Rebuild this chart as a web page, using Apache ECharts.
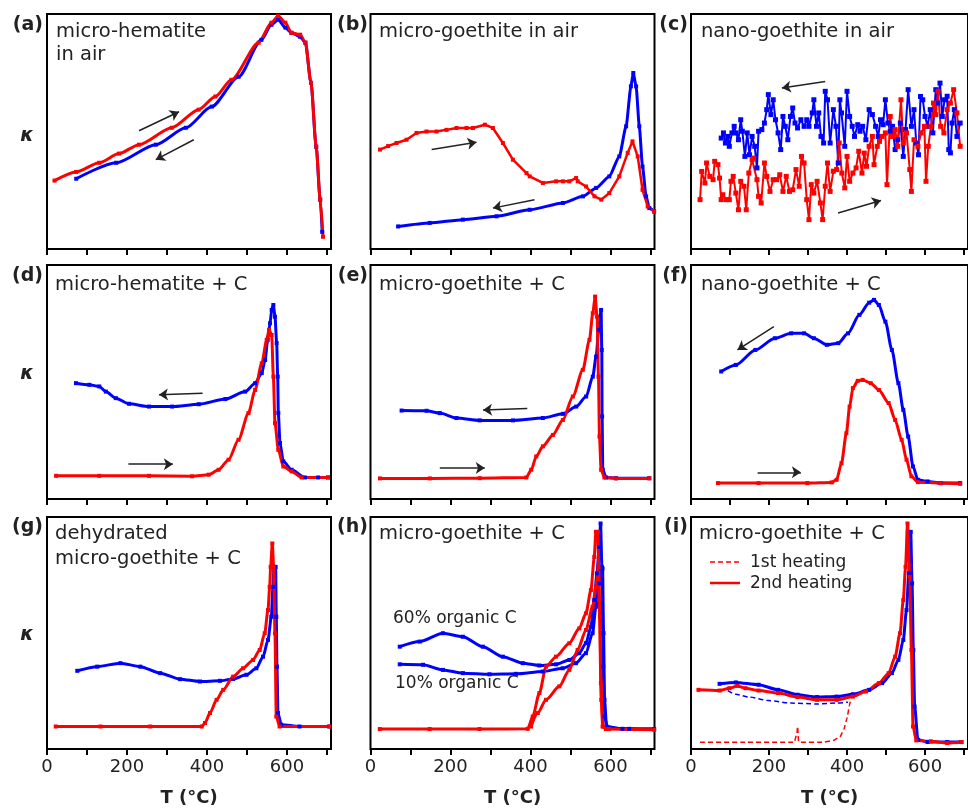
<!DOCTYPE html>
<html>
<head>
<meta charset="utf-8">
<script src="https://cdn.jsdelivr.net/npm/echarts@6/dist/echarts.min.js"></script>
<style>
html, body { margin: 0; padding: 0; background: #fff; }
#main { width: 968px; height: 809px; }
</style>
</head>
<body>
<div id="main"></div>
<script>
// x 轴刻度 (T, °C)
var tickValues = [0, 100, 200, 300, 400, 500, 600, 700];
var labelValues = [0, 200, 400, 600];

// (a) micro-hematite in air
var aHeat = [[18.7, 29.1], [72.6, 32.8], [130.6, 36.7], [180, 40.6], [230, 44.4], [312, 51.6], [379, 59.3], [421, 64.9], [461, 72.0], [529, 87.8], [561, 96.3], [578, 99.2], [596, 96.3], [611, 92], [633, 91.2], [646, 87.8], [660, 70.7], [673, 43.5], [683, 21], [690, 5.2]];
var aCool = [[73, 29.9], [173, 36.7], [272, 44.4], [347, 51.6], [412, 60.6], [479, 73.3], [536, 89], [561, 95.4], [578, 97.6], [596, 94.2], [611, 92], [633, 90.3], [646, 87.8], [660, 70.7], [673, 43.5], [683, 21], [688, 7.3]];
var aArrows = [[230, 50.3, 330, 58.4], [367, 46.5, 272, 38]];

// (b) micro-goethite in air
var bHeat = [[23.7, 42.3], [44, 43.8], [65, 45.1], [90, 46.5], [115, 49.4], [140, 50.0], [165, 50.0], [190, 50.7], [215, 51.5], [240, 51.5], [256, 51.5], [286, 52.9], [306, 51.5], [331, 45.1], [356, 38], [390, 32.3], [398, 30.9], [431, 28.1], [464, 28.8], [481, 28.8], [497, 28.8], [514, 30.2], [518, 28.8], [539, 26.6], [560, 22.4], [577, 21], [597, 23.8], [622, 30.9], [643, 40.9], [655, 45.8], [668, 39.4], [680, 25.2], [693, 18.1], [709, 16]];
var bCool = [[69, 9.6], [148, 11.1], [231, 12.5], [315, 13.9], [398, 16.7], [481, 19.6], [531, 22.4], [564, 26], [597, 30.9], [622, 39.4], [639, 52.2], [651, 69.2], [657, 74.9], [664, 69.2], [672, 52.2], [680, 35.1], [689, 22.4], [697, 17.4], [709, 16]];
var bArrows = [[153, 42.3, 265, 45.4], [410, 21, 306, 17.4]];

// (c) nano-goethite in air
var cHeat = [[23.2, 21.0], [27.4, 33.0], [35.7, 28.1], [39.9, 36.6], [48.2, 30.9], [56.6, 29.5], [60.7, 37.3], [69.1, 35.9], [73.2, 30.2], [77.4, 21.0], [81.6, 23.1], [89.9, 21.0], [98.2, 21.0], [102.4, 28.8], [108.2, 30.9], [114.9, 23.8], [121.6, 16.7], [127.4, 28.8], [135.7, 26.7], [141.6, 16.7], [148.2, 32.3], [156.6, 38.0], [160.7, 38.7], [169.1, 29.5], [173.2, 22.4], [179.9, 19.6], [188.2, 36.6], [194.1, 30.9], [202.4, 24.5], [210.7, 29.5], [219.1, 29.5], [227.4, 31.6], [235.7, 24.5], [244.1, 30.9], [252.4, 24.5], [260.7, 25.2], [269.1, 33.8], [277.4, 26.7], [283.2, 39.4], [289.9, 36.6], [296.6, 21.0], [302.4, 12.5], [308.2, 27.4], [314.9, 23.8], [323.2, 28.8], [331.6, 19.6], [337.4, 12.5], [344.1, 26.7], [349.9, 36.6], [356.6, 24.5], [364.9, 33.1], [373.2, 33.8], [379.9, 45.1], [386.6, 32.3], [394.1, 26.0], [399.9, 39.4], [406.6, 28.8], [414.9, 32.3], [423.2, 34.5], [429.9, 41.6], [438.2, 32.3], [444.1, 40.8], [449.9, 35.2], [456.6, 43.7], [464.9, 47.9], [469.1, 35.9], [477.4, 43.7], [483.2, 45.8], [489.9, 47.9], [498.2, 49.4], [502.4, 27.4], [510.7, 56.4], [516.6, 47.9], [523.2, 50.8], [529.9, 43.7], [538.2, 63.5], [544.1, 45.1], [552.4, 49.4], [560.7, 33.8], [564.9, 24.5], [571.6, 46.5], [581.6, 43.7], [589.9, 49.4], [598.2, 52.2], [602.4, 28.8], [608.2, 43.7], [614.9, 52.2], [621.6, 62.1], [627.4, 57.2], [633.2, 67.1], [639.9, 52.2], [648.2, 49.4], [656.6, 59.3], [664.9, 62.1], [673.2, 67.8], [681.6, 57.9], [689.9, 43.7]];
var cCool = [[77.4, 47.2], [83.2, 49.4], [88.2, 45.1], [94.1, 47.9], [98.2, 43.7], [104.9, 49.4], [110.7, 52.2], [114.9, 49.4], [121.6, 46.5], [127.4, 55.0], [131.6, 50.1], [138.2, 39.4], [144.1, 49.4], [149.9, 40.1], [156.6, 47.9], [163.2, 43.7], [169.1, 34.5], [173.2, 50.1], [181.6, 50.8], [188.2, 53.6], [194.1, 59.3], [198.2, 65.7], [204.9, 57.2], [210.7, 63.5], [216.6, 55.0], [223.2, 49.4], [229.9, 42.3], [235.7, 56.4], [241.6, 52.2], [248.2, 46.5], [254.9, 56.4], [260.7, 60.0], [266.6, 53.6], [273.2, 51.5], [281.6, 55.0], [289.9, 52.2], [296.6, 55.0], [302.4, 52.2], [310.7, 57.9], [314.9, 63.5], [321.6, 52.2], [327.4, 57.9], [333.2, 47.9], [339.9, 45.1], [344.1, 67.1], [349.9, 63.5], [356.6, 45.1], [364.9, 59.3], [371.6, 52.2], [377.4, 36.6], [381.6, 63.5], [385.7, 57.9], [394.1, 43.7], [399.9, 67.1], [406.6, 56.4], [413.2, 52.2], [419.1, 47.9], [427.4, 52.9], [433.2, 50.1], [439.9, 52.2], [448.2, 46.5], [456.6, 59.3], [464.9, 57.2], [473.2, 52.2], [479.9, 47.9], [485.7, 55.0], [492.4, 52.9], [498.2, 63.5], [504.9, 53.6], [510.7, 50.1], [516.6, 52.2], [523.2, 42.3], [529.9, 46.5], [536.6, 53.6], [544.1, 39.4], [549.9, 50.8], [556.6, 67.8], [564.9, 52.2], [571.6, 59.3], [577.4, 45.1], [583.2, 40.1], [588.2, 64.9], [594.1, 63.5], [599.9, 56.4], [606.6, 52.2], [613.2, 59.3], [619.9, 49.4], [627.4, 67.8], [631.6, 62.1], [638.2, 70.6], [644.1, 56.4], [649.9, 63.5], [656.6, 65.0], [660.7, 42.3], [664.9, 40.9], [669.1, 53.6], [674.9, 59.3], [681.6, 47.9], [689.9, 53.6]];
var cArrows = [[344, 71.3, 233, 68.5], [377, 15.3, 487, 20.6]];

// (d) micro-hematite + C
var dHeat = [[22.8, 9.9], [130.6, 9.9], [254.9, 9.9], [362.7, 9.7], [404.2, 10.4], [429.1, 12.5], [454.0, 16.8], [478.8, 25.3], [503.7, 36.7], [520.3, 46.6], [536.9, 58.0], [549.3, 68.0], [555.1, 72.3], [561.7, 70.1], [565.9, 52.3], [570.0, 32.4], [578.3, 21.0], [590.8, 13.9], [611.5, 11.8], [636.4, 9.2], [702.7, 9.2]];
var dCool = [[72.5, 49.5], [105.7, 48.8], [130.6, 48.1], [147.1, 45.9], [172.0, 43.1], [205.2, 40.7], [254.9, 39.5], [313.0, 39.5], [379.3, 40.5], [445.7, 42.7], [495.4, 45.9], [520.3, 49.5], [536.9, 53.8], [545.2, 59.4], [551.8, 68.0], [557.6, 75.1], [561.7, 80.8], [565.9, 82.9], [570.0, 77.9], [574.2, 66.6], [576.7, 52.3], [578.3, 36.7], [582.5, 23.9], [590.8, 16.1], [611.5, 12.5], [644.7, 9.2], [677.8, 9.2], [702.7, 9.2]];
var dArrows = [[389, 45.2, 280, 44.5], [203.5, 14.9, 314.6, 14.9]];

// (e) micro-goethite + C
var eHeat = [[23.7, 8.8], [148.4, 8.8], [273.1, 8.9], [389.5, 9.2], [401.9, 12.5], [414.4, 18.2], [431.0, 22.5], [456.0, 27.4], [480.9, 33.8], [505.8, 43.8], [530.8, 55.2], [547.4, 68.0], [555.7, 79.4], [561.5, 86.5], [566.5, 77.9], [569.9, 52.3], [572.4, 26.7], [576.5, 12.5], [584.8, 9.2], [613.9, 8.8], [697.0, 8.8]];
var eCool = [[77.7, 37.8], [140.1, 37.7], [173.3, 36.7], [214.9, 34.6], [273.1, 33.6], [356.2, 33.6], [431.0, 34.6], [480.9, 36.4], [514.2, 39.5], [539.1, 43.8], [555.7, 52.3], [564.0, 60.9], [570.7, 72.3], [576.5, 80.8], [578.2, 63.7], [579.0, 35.3], [580.7, 12.5], [589.0, 9.2], [613.9, 8.9], [697.0, 8.9]];
var eArrows = [[392, 38.7, 281.4, 38.0], [173.3, 13.2, 285.6, 13.2]];

// (f) nano-goethite + C
var fHeat = [[69.1, 6.8], [173.2, 6.8], [298.2, 6.8], [360.7, 7.1], [373.2, 8.2], [385.7, 15.3], [398.2, 28.1], [406.6, 39.5], [414.9, 47.4], [427.4, 50.5], [439.9, 50.9], [460.7, 49.5], [481.6, 46.6], [506.6, 41.0], [523.2, 33.8], [539.9, 25.3], [552.4, 16.8], [564.9, 9.7], [581.6, 7.2], [639.9, 6.8], [689.9, 6.5]];
var fCool = [[77.4, 54.5], [114.9, 57.3], [164.9, 63.7], [214.9, 68.7], [256.6, 70.8], [289.9, 70.8], [314.9, 68.7], [348.2, 65.9], [377.4, 66.6], [402.4, 70.8], [431.6, 78.7], [456.6, 83.9], [469.1, 85.1], [481.6, 82.9], [498.2, 75.8], [514.9, 63.7], [531.6, 49.5], [544.1, 38.1], [556.6, 26.7], [569.1, 13.9], [581.6, 8.2], [606.6, 7.5], [639.9, 6.8], [689.9, 6.8]];
var fArrows = [[212.4, 73.7, 119.1, 63.7], [170.7, 11.4, 281.6, 11.4]];

// (g) dehydrated micro-goethite + C
var gHeat = [[21.8, 9.7], [133.8, 9.7], [258.1, 9.7], [386.7, 9.7], [395.0, 11.2], [407.4, 15.5], [424.0, 21.2], [440.6, 25.5], [465.4, 31.2], [490.3, 34.8], [515.2, 38.4], [531.8, 42.7], [544.2, 49.9], [552.5, 59.9], [556.7, 69.9], [559.1, 78.5], [563.3, 88.6], [566.6, 78.5], [569.9, 49.9], [573.2, 14.0], [581.5, 9.7], [705.9, 9.7]];
var gCool = [[75.7, 33.7], [125.5, 35.5], [183.5, 37.0], [233.3, 35.5], [283.0, 32.7], [332.8, 30.1], [382.5, 29.1], [432.3, 29.4], [465.4, 30.2], [498.6, 32.0], [523.5, 34.8], [540.1, 39.8], [552.5, 47.0], [560.8, 57.0], [564.9, 69.9], [567.4, 78.5], [571.6, 78.5], [573.2, 57.0], [574.9, 35.5], [577.4, 15.5], [585.7, 10.5], [631.3, 9.7], [705.9, 9.7]];

// (h) micro-goethite + C, 60% / 10% organic C
var hHeat60 = [[23.2, 8.6], [147.9, 8.6], [272.6, 8.6], [393.1, 8.7], [405.6, 14.0], [422.2, 24.1], [438.8, 35.5], [463.8, 39.8], [497.0, 45.6], [522.0, 52.0], [538.6, 58.5], [551.1, 68.5], [559.4, 82.8], [563.5, 93.6], [568.5, 93.6], [571.9, 64.2], [576.0, 28.4], [580.2, 9.7], [588.5, 8.6], [709.0, 8.3]];
var hHeat10 = [[401.4, 9.7], [418.1, 15.5], [438.8, 21.2], [472.1, 27.0], [497.0, 34.1], [517.8, 42.7], [538.6, 51.3], [555.2, 61.3], [563.5, 69.9], [570.2, 78.5], [573.5, 57.0], [576.8, 21.2], [581.8, 9.7], [596.8, 8.6]];
var hCool60 = [[73.1, 44.1], [123.0, 46.3], [181.1, 49.9], [231.0, 48.4], [280.9, 44.1], [330.8, 39.8], [380.7, 37.0], [422.2, 36.0], [463.8, 36.5], [497.0, 38.4], [522.0, 41.3], [538.6, 45.6], [551.1, 52.7], [559.4, 64.2], [566.0, 75.7], [571.9, 87.1], [575.2, 97.2], [578.5, 78.5], [581.8, 35.5], [585.1, 14.0], [592.6, 9.0], [646.7, 8.7], [709.0, 8.6]];
var hCool10 = [[73.1, 36.5], [131.3, 36.3], [181.1, 34.1], [231.0, 32.7], [297.5, 32.2], [364.0, 32.4], [430.5, 33.4], [480.4, 34.8], [513.6, 37.0], [538.6, 41.3], [555.2, 49.9], [563.5, 61.3], [571.9, 71.4], [576.0, 77.8], [580.2, 77.8], [582.6, 49.9], [585.1, 21.2], [590.1, 9.7], [630.0, 8.7], [709.0, 8.6]];

// (i) micro-goethite + C, 1st / 2nd heating
var iHeat1 = [[23.2, 2.9], [131.6, 2.9], [264.9, 2.9], [271.6, 6.9], [273.2, 9.7], [275.7, 3.3], [281.6, 2.9], [339.9, 2.9], [364.9, 3.7], [381.6, 5.2], [391.6, 8.3], [399.9, 13.3], [406.6, 19.1], [408.2, 20.5]];
var iCool1 = [[94.1, 25.2], [114.9, 23.6], [148.2, 22.4], [198.2, 20.9], [256.6, 19.8], [323.2, 19.4], [373.2, 19.8], [402.4, 20.2]];
var iHeat2 = [[19.1, 25.5], [73.2, 25.2], [98.2, 26.2], [119.1, 27.2], [139.9, 26.2], [173.2, 25.2], [223.2, 24.1], [273.2, 22.4], [323.2, 21.2], [373.2, 21.2], [414.9, 22.6], [448.2, 24.8], [481.6, 28.4], [506.6, 32.7], [523.2, 39.8], [535.7, 49.9], [544.1, 64.2], [549.9, 78.5], [554.9, 97.2], [560.7, 74.2], [564.9, 42.7], [569.1, 9.7], [577.4, 3.7], [614.9, 3.3], [656.6, 2.6], [693.2, 3.0]];
var iCool2 = [[73.2, 28.1], [114.9, 28.7], [173.2, 27.7], [223.2, 25.5], [273.2, 23.4], [323.2, 22.4], [373.2, 22.6], [414.9, 23.6], [456.6, 25.5], [489.9, 28.4], [514.9, 32.7], [531.6, 38.4], [544.1, 47.0], [552.4, 59.9], [558.2, 75.7], [563.2, 93.6], [566.6, 71.4], [569.9, 42.7], [573.2, 18.3], [581.6, 4.0], [606.6, 3.0], [656.6, 3.0], [693.2, 3.0]];

var panelTags = ['(a)', '(b)', '(c)', '(d)', '(e)', '(f)', '(g)', '(h)', '(i)'];

var RED = '#ff0000', BLUE = '#0000ff';
var FONT = '"DejaVu Sans", sans-serif';

var chart = echarts.init(document.getElementById('main'));

// 面板位置
var lefts = [47, 370.5, 691];
var tops = [14, 265, 517];
var heights = [235, 234, 232];

var grids = [], xAxes = [], yAxes = [];
for (var k = 0; k < 9; k++) {
    var r = Math.floor(k / 3), c = k % 3;
    grids.push({
        left: lefts[c], top: tops[r], width: 284, height: heights[r],
        show: true, borderColor: '#000', borderWidth: 2, backgroundColor: 'transparent'
    });
    xAxes.push({
        gridIndex: k, type: 'value', min: 0, max: 710,
        axisLine: {show: false},
        axisTick: {show: true, inside: false, length: 6, customValues: tickValues,
            lineStyle: {color: '#000', width: 2}},
        axisLabel: {show: r === 2, customValues: labelValues, margin: 9,
            fontSize: 18, color: '#222', fontFamily: FONT},
        splitLine: {show: false},
        name: r === 2 ? 'T (°C)' : '',
        nameLocation: 'middle', nameGap: 40,
        nameTextStyle: {fontSize: 18, fontWeight: 'bold', color: '#222', fontFamily: FONT}
    });
    yAxes.push({gridIndex: k, type: 'value', min: 0, max: 100, show: false});
}

function curve(idx, data, color, opt) {
    opt = opt || {};
    return {
        type: 'line', xAxisIndex: idx, yAxisIndex: idx, data: data,
        smooth: opt.smooth === undefined ? 0.25 : opt.smooth,
        smoothMonotone: 'x',
        symbol: opt.dashed ? 'none' : 'rect',
        symbolSize: opt.size || 4,
        showSymbol: !opt.dashed,
        lineStyle: {color: color, width: opt.width || 3, type: opt.dashed ? [5, 3] : 'solid'},
        itemStyle: {color: color},
        silent: true,
        markLine: opt.arrows ? arrowLines(opt.arrows) : undefined
    };
}

// 箭头
function arrowLines(list) {
    return {
        silent: true, symbol: ['none', 'arrow'], symbolSize: 9,
        lineStyle: {color: '#222', width: 1.5, type: 'solid'},
        label: {show: false},
        emphasis: {disabled: true},
        data: list.map(function (a) {
            return [{coord: [a[0], a[1]]}, {coord: [a[2], a[3]]}];
        })
    };
}

var series = [
    curve(0, aCool, BLUE, {arrows: aArrows}),
    curve(0, aHeat, RED),
    curve(1, bCool, BLUE, {smooth: 0.2, arrows: bArrows}),
    curve(1, bHeat, RED, {smooth: false, width: 2.5}),
    curve(2, cCool, BLUE, {smooth: false, width: 2, size: 5, arrows: cArrows}),
    curve(2, cHeat, RED, {smooth: false, width: 2, size: 5}),
    curve(3, dCool, BLUE, {arrows: dArrows}),
    curve(3, dHeat, RED),
    curve(4, eCool, BLUE, {arrows: eArrows}),
    curve(4, eHeat, RED),
    curve(5, fCool, BLUE, {arrows: fArrows}),
    curve(5, fHeat, RED),
    curve(6, gCool, BLUE),
    curve(6, gHeat, RED),
    curve(7, hCool60, BLUE),
    curve(7, hCool10, BLUE),
    curve(7, hHeat60, RED),
    curve(7, hHeat10, RED),
    curve(8, iCool1, BLUE, {dashed: true, width: 1.5}),
    curve(8, iHeat1, RED, {dashed: true, width: 1.5, smooth: 0.1}),
    curve(8, iCool2, BLUE),
    curve(8, iHeat2, RED)
];

// 文字注释
function txt(x, y, s, font, align) {
    return {type: 'text', x: x, y: y, silent: true,
        style: {text: s, font: font, fill: '#222', align: align || 'left', verticalAlign: 'middle',
            textAlign: align || 'left', textVerticalAlign: 'middle'}};
}
var titleFont = '19.5px ' + FONT;
var noteFont = '17px ' + FONT;
var tagFont = 'bold 19px ' + FONT;
var graphics = [
    txt(56, 32, 'micro-hematite', titleFont),
    txt(56, 55, 'in air', titleFont),
    txt(379, 32, 'micro-goethite in air', titleFont),
    txt(701, 32, 'nano-goethite in air', titleFont),
    txt(55, 285, 'micro-hematite + C', titleFont),
    txt(379, 285, 'micro-goethite + C', titleFont),
    txt(701, 285, 'nano-goethite + C', titleFont),
    txt(55, 534, 'dehydrated', titleFont),
    txt(55, 559, 'micro-goethite + C', titleFont),
    txt(379, 534, 'micro-goethite + C', titleFont),
    txt(699, 534, 'micro-goethite + C', titleFont),
    txt(750, 563, '1st heating', noteFont),
    txt(750, 584, '2nd heating', noteFont),
    txt(393, 619, '60% organic C', noteFont),
    txt(395, 684, '10% organic C', noteFont),
    {type: 'line', silent: true, shape: {x1: 710, y1: 562, x2: 740, y2: 562},
        style: {stroke: RED, lineWidth: 1.5, lineDash: [5, 3]}},
    {type: 'line', silent: true, shape: {x1: 710, y1: 583, x2: 740, y2: 583},
        style: {stroke: RED, lineWidth: 2.5}}
];
var tagX = [43, 368, 688], tagY = [25, 276, 527];
for (var n = 0; n < 9; n++) {
    graphics.push(txt(tagX[n % 3], tagY[Math.floor(n / 3)], panelTags[n], tagFont, 'right'));
}
var kappaY = [136, 374, 635];
for (var m = 0; m < 3; m++) {
    graphics.push(txt(27, kappaY[m], 'κ', 'italic bold 19px ' + FONT, 'center'));
}

chart.setOption({
    animation: false,
    backgroundColor: '#fff',
    textStyle: {fontFamily: FONT},
    grid: grids,
    xAxis: xAxes,
    yAxis: yAxes,
    series: series,
    graphic: {elements: graphics}
});
</script>
</body>
</html>
